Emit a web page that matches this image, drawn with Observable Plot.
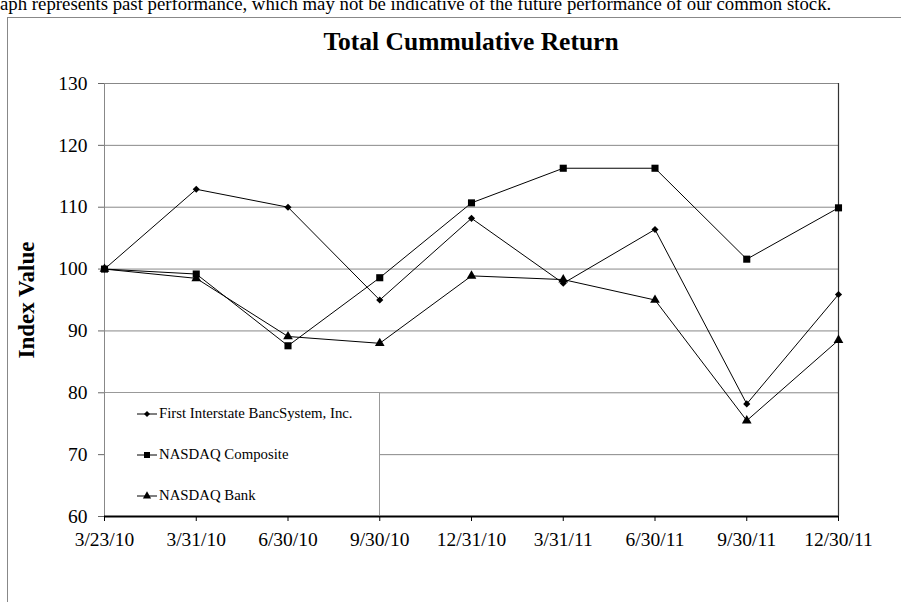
<!DOCTYPE html>
<html>
<head>
<meta charset="utf-8">
<script src="https://cdn.jsdelivr.net/npm/d3@7"></script>
<script src="https://cdn.jsdelivr.net/npm/@observablehq/plot@0.6"></script>
<style>
  html, body { margin: 0; padding: 0; background: #fff; }
  #wrap { position: relative; width: 901px; height: 602px; overflow: hidden; font-family: "Liberation Serif", "Times New Roman", serif; }
  #topnote { position: absolute; left: 0; top: -6px; font-size: 18.8px; line-height: 20px; white-space: nowrap; color: #000; }
  #border { position: absolute; left: 7px; top: 17px; width: 900px; height: 600px; border-left: 1px solid #888; border-top: 1px solid #888; }
  #title { position: absolute; top: 27px; font-size: 25.5px; font-weight: bold; text-align: center; white-space: nowrap; transform: translateX(-50%); }
  #chart { position: absolute; left: 0; top: 60px; }
  #chart svg { font-family: "Liberation Serif", "Times New Roman", serif; }
  #chart g[aria-label="y-axis label"] text { font-size: 23px; font-weight: bold; }
  #legend { position: absolute; background: #fff; border-top: 1px solid #999; border-right: 1px solid #999; box-sizing: border-box; }
  .lg { position: absolute; left: 32px; display: flex; align-items: center; font-size: 14.8px; white-space: nowrap; }
  .lg svg { margin-right: 2px; }
</style>
</head>
<body>
<div id="wrap">
  <div id="topnote">aph represents past performance, which may not be indicative of the future performance of our common stock.</div>
  <div id="border"></div>
  <div id="title">Total Cummulative Return</div>
  <div id="chart"></div>
  <div id="legend"></div>
</div>
<script>
const dates = ["3/23/10","3/31/10","6/30/10","9/30/10","12/31/10","3/31/11","6/30/11","9/30/11","12/30/11"];
const seriesNames = ["First Interstate BancSystem, Inc.","NASDAQ Composite","NASDAQ Bank"];
const firstInterstate = [100, 112.9, 110.0, 95.0, 108.2, 97.7, 106.4, 78.2, 95.9];
const nasdaqComposite = [100, 99.2, 87.6, 98.6, 110.7, 116.3, 116.3, 101.6, 109.9];
const nasdaqBank = [100, 98.5, 89.1, 88.0, 98.9, 98.3, 95.0, 75.5, 88.5];
const yTicks = [60, 70, 80, 90, 100, 110, 120, 130];
const symbols = ["diamond2", "square", "triangle"];
const symbolR = [3.2, 4.0, 3.6];

const seriesValues = [firstInterstate, nasdaqComposite, nasdaqBank];
const rows = seriesNames.flatMap((s, k) => seriesValues[k].map((v, i) => ({s, k, i, v})));

const W = 901, H = 542;
const chart = Plot.plot({
  width: W, height: H,
  marginLeft: 104, marginRight: 63, marginTop: 23, marginBottom: 86,
  style: {fontSize: "19.5px", color: "#000", background: "transparent"},
  x: {domain: [0, dates.length - 1]},
  y: {domain: [yTicks[0], yTicks[yTicks.length - 1]]},
  marks: [
    Plot.ruleY(yTicks.slice(1, -1), {stroke: "#888", strokeWidth: 1}),
    Plot.frame({stroke: "#888"}),
    Plot.ruleY([yTicks[0]], {stroke: "#000", strokeWidth: 2}),
    Plot.ruleX([dates.length - 1], {stroke: "#333", strokeWidth: 1.2}),
    Plot.axisY({ticks: yTicks, tickSize: 6, tickPadding: 11, label: "Index Value", labelAnchor: "center", labelArrow: "none", labelOffset: 87, stroke: "#666"}),
    Plot.axisX({ticks: d3.range(dates.length), tickFormat: i => dates[i], tickSize: 5, tickPadding: 11, label: null, stroke: "#000"}),
    ...seriesNames.map((s, k) => Plot.line(rows.filter(d => d.k === k), {x: "i", y: "v", stroke: "#000", strokeWidth: 1})),
    ...seriesNames.map((s, k) => Plot.dot(rows.filter(d => d.k === k), {x: "i", y: "v", symbol: () => symbols[k], r: symbolR[k], fill: "#000", stroke: "none"}))
  ]
});
document.getElementById("chart").appendChild(chart);

const xs = chart.scale("x"), ys = chart.scale("y");
const top0 = 60;
const title = document.getElementById("title");
title.style.left = ((xs.apply(0) + xs.apply(dates.length - 1)) / 2) + "px";

// legend box anchored on plot coordinates (Excel-style inside legend)
const lg = document.getElementById("legend");
const lx0 = xs.apply(0) + 1, lx1 = xs.apply(3);
const ly0 = top0 + ys.apply(80), ly1 = top0 + ys.apply(60) - 1;
lg.style.left = lx0 + "px"; lg.style.top = ly0 + "px";
lg.style.width = (lx1 - lx0 + 1) + "px"; lg.style.height = (ly1 - ly0) + "px";
const rowH = (ly1 - ly0) / 3;
const symMap = {diamond2: d3.symbolDiamond2, square: d3.symbolSquare, triangle: d3.symbolTriangle};
seriesNames.forEach((name, k) => {
  const el = document.createElement("div");
  el.className = "lg";
  el.style.top = (rowH * k + rowH / 2 - 10) + "px";
  el.style.height = "20px";
  const path = d3.symbol(symMap[symbols[k]], Math.PI * (symbolR[k] * 0.85) ** 2)();
  el.innerHTML = `<svg width="20" height="12" viewBox="0 0 20 12"><line x1="0" x2="20" y1="6" y2="6" stroke="#000" stroke-width="1"/><path d="${path}" transform="translate(10,6)" fill="#000"/></svg><span>${name}</span>`;
  lg.appendChild(el);
});
</script>
</body>
</html>
